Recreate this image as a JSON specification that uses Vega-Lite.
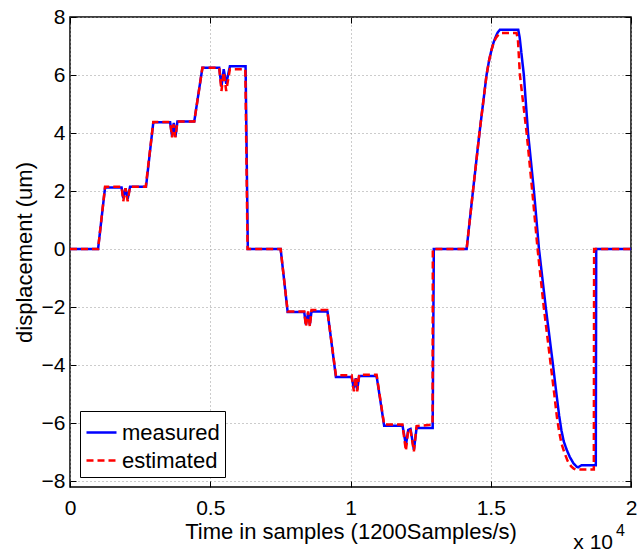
{
  "$schema": "https://vega.github.io/schema/vega-lite/v6.json",
  "width": 561,
  "height": 470,
  "autosize": "none",
  "padding": {"left": 70, "top": 17, "right": 6, "bottom": 65},
  "background": "white",
  "config": {
    "font": "Liberation Sans",
    "view": {"stroke": "#000000", "strokeWidth": 1.5},
    "axis": {
      "labelFont": "Liberation Sans",
      "titleFont": "Liberation Sans",
      "labelColor": "#000000",
      "titleColor": "#000000",
      "titleFontWeight": "normal",
      "labelFontSize": 21,
      "titleFontSize": 22,
      "domain": false,
      "tickColor": "#000000",
      "tickSize": -6,
      "tickWidth": 1,
      "gridColor": "#999999",
      "gridDash": [1, 3],
      "gridWidth": 1
    },
    "legend": {
      "orient": "bottom-left",
      "offset": 10,
      "strokeColor": "#000000",
      "fillColor": "#ffffff",
      "padding": 5,
      "symbolType": "stroke",
      "symbolSize": 900,
      "symbolStrokeWidth": 2.5,
      "labelFont": "Liberation Sans",
      "labelFontSize": 22,
      "labelColor": "#000000",
      "labelOffset": 4,
      "rowPadding": 0,
      "title": null
    }
  },
  "datasets": {
    "lines": [
      {"t": 0, "v": 0, "s": "measured"}, {"t": 1000, "v": 0, "s": "measured"}, {"t": 1250, "v": 2.12, "s": "measured"}, {"t": 1840, "v": 2.12, "s": "measured"}, {"t": 1900, "v": 1.75, "s": "measured"}, {"t": 1980, "v": 2.1, "s": "measured"}, {"t": 2055, "v": 1.72, "s": "measured"}, {"t": 2140, "v": 2.15, "s": "measured"}, {"t": 2710, "v": 2.15, "s": "measured"}, {"t": 2970, "v": 4.37, "s": "measured"}, {"t": 3570, "v": 4.37, "s": "measured"}, {"t": 3640, "v": 3.88, "s": "measured"}, {"t": 3700, "v": 4.35, "s": "measured"}, {"t": 3760, "v": 3.88, "s": "measured"}, {"t": 3830, "v": 4.4, "s": "measured"}, {"t": 4430, "v": 4.4, "s": "measured"}, {"t": 4720, "v": 6.25, "s": "measured"}, {"t": 5320, "v": 6.25, "s": "measured"}, {"t": 5400, "v": 5.6, "s": "measured"}, {"t": 5480, "v": 6.2, "s": "measured"}, {"t": 5570, "v": 5.7, "s": "measured"}, {"t": 5700, "v": 6.3, "s": "measured"}, {"t": 6260, "v": 6.3, "s": "measured"}, {"t": 6340, "v": 0, "s": "measured"}, {"t": 7510, "v": 0, "s": "measured"}, {"t": 7760, "v": -2.17, "s": "measured"}, {"t": 8350, "v": -2.17, "s": "measured"}, {"t": 8410, "v": -2.6, "s": "measured"}, {"t": 8490, "v": -2.2, "s": "measured"}, {"t": 8550, "v": -2.6, "s": "measured"}, {"t": 8610, "v": -2.15, "s": "measured"}, {"t": 9180, "v": -2.15, "s": "measured"}, {"t": 9480, "v": -4.41, "s": "measured"}, {"t": 10040, "v": -4.41, "s": "measured"}, {"t": 10120, "v": -4.8, "s": "measured"}, {"t": 10190, "v": -4.45, "s": "measured"}, {"t": 10240, "v": -4.85, "s": "measured"}, {"t": 10310, "v": -4.37, "s": "measured"}, {"t": 10930, "v": -4.37, "s": "measured"}, {"t": 11200, "v": -6.09, "s": "measured"}, {"t": 11856, "v": -6.09, "s": "measured"}, {"t": 11975, "v": -6.75, "s": "measured"}, {"t": 12060, "v": -6.23, "s": "measured"}, {"t": 12140, "v": -6.2, "s": "measured"}, {"t": 12260, "v": -6.92, "s": "measured"}, {"t": 12355, "v": -6.17, "s": "measured"}, {"t": 12930, "v": -6.17, "s": "measured"}, {"t": 12970, "v": 0, "s": "measured"}, {"t": 14140, "v": 0, "s": "measured"}, {"t": 14366, "v": 2, "s": "measured"}, {"t": 14597, "v": 4, "s": "measured"}, {"t": 14850, "v": 6, "s": "measured"}, {"t": 14940, "v": 6.5, "s": "measured"}, {"t": 15028, "v": 6.87, "s": "measured"}, {"t": 15100, "v": 7.12, "s": "measured"}, {"t": 15182, "v": 7.33, "s": "measured"}, {"t": 15250, "v": 7.47, "s": "measured"}, {"t": 15325, "v": 7.56, "s": "measured"}, {"t": 15980, "v": 7.56, "s": "measured"}, {"t": 16030, "v": 7.3, "s": "measured"}, {"t": 16180, "v": 6, "s": "measured"}, {"t": 16330, "v": 4, "s": "measured"}, {"t": 16540, "v": 2, "s": "measured"}, {"t": 16720, "v": 0, "s": "measured"}, {"t": 16960, "v": -2, "s": "measured"}, {"t": 17220, "v": -4, "s": "measured"}, {"t": 17343, "v": -5.0, "s": "measured"}, {"t": 17440, "v": -5.75, "s": "measured"}, {"t": 17520, "v": -6.25, "s": "measured"}, {"t": 17600, "v": -6.62, "s": "measured"}, {"t": 17700, "v": -6.9, "s": "measured"}, {"t": 17820, "v": -7.17, "s": "measured"}, {"t": 17940, "v": -7.37, "s": "measured"}, {"t": 18060, "v": -7.5, "s": "measured"}, {"t": 18115, "v": -7.52, "s": "measured"}, {"t": 18235, "v": -7.45, "s": "measured"}, {"t": 18745, "v": -7.45, "s": "measured"}, {"t": 18760, "v": 0, "s": "measured"}, {"t": 20000, "v": 0, "s": "measured"},
      {"t": 0, "v": 0, "s": "estimated"}, {"t": 1000, "v": 0, "s": "estimated"}, {"t": 1250, "v": 2.15, "s": "estimated"}, {"t": 1840, "v": 2.15, "s": "estimated"}, {"t": 1900, "v": 1.65, "s": "estimated"}, {"t": 1980, "v": 2.1, "s": "estimated"}, {"t": 2055, "v": 1.65, "s": "estimated"}, {"t": 2140, "v": 2.15, "s": "estimated"}, {"t": 2700, "v": 2.15, "s": "estimated"}, {"t": 2970, "v": 4.38, "s": "estimated"}, {"t": 3570, "v": 4.38, "s": "estimated"}, {"t": 3640, "v": 3.85, "s": "estimated"}, {"t": 3690, "v": 4.3, "s": "estimated"}, {"t": 3760, "v": 3.85, "s": "estimated"}, {"t": 3830, "v": 4.4, "s": "estimated"}, {"t": 4430, "v": 4.4, "s": "estimated"}, {"t": 4720, "v": 6.25, "s": "estimated"}, {"t": 5320, "v": 6.25, "s": "estimated"}, {"t": 5400, "v": 5.45, "s": "estimated"}, {"t": 5480, "v": 6.1, "s": "estimated"}, {"t": 5570, "v": 5.45, "s": "estimated"}, {"t": 5700, "v": 6.2, "s": "estimated"}, {"t": 6250, "v": 6.2, "s": "estimated"}, {"t": 6330, "v": 0, "s": "estimated"}, {"t": 7510, "v": 0, "s": "estimated"}, {"t": 7760, "v": -2.15, "s": "estimated"}, {"t": 8350, "v": -2.15, "s": "estimated"}, {"t": 8410, "v": -2.67, "s": "estimated"}, {"t": 8490, "v": -2.15, "s": "estimated"}, {"t": 8550, "v": -2.67, "s": "estimated"}, {"t": 8610, "v": -2.1, "s": "estimated"}, {"t": 9170, "v": -2.1, "s": "estimated"}, {"t": 9480, "v": -4.35, "s": "estimated"}, {"t": 10040, "v": -4.35, "s": "estimated"}, {"t": 10120, "v": -4.9, "s": "estimated"}, {"t": 10190, "v": -4.4, "s": "estimated"}, {"t": 10240, "v": -4.9, "s": "estimated"}, {"t": 10310, "v": -4.33, "s": "estimated"}, {"t": 10930, "v": -4.33, "s": "estimated"}, {"t": 11200, "v": -6.05, "s": "estimated"}, {"t": 11850, "v": -6.05, "s": "estimated"}, {"t": 11975, "v": -6.95, "s": "estimated"}, {"t": 12060, "v": -6.2, "s": "estimated"}, {"t": 12140, "v": -6.25, "s": "estimated"}, {"t": 12260, "v": -6.97, "s": "estimated"}, {"t": 12355, "v": -6.1, "s": "estimated"}, {"t": 12925, "v": -6.05, "s": "estimated"}, {"t": 12935, "v": 0, "s": "estimated"}, {"t": 14140, "v": 0, "s": "estimated"}, {"t": 14366, "v": 2, "s": "estimated"}, {"t": 14597, "v": 4, "s": "estimated"}, {"t": 14850, "v": 6, "s": "estimated"}, {"t": 14940, "v": 6.5, "s": "estimated"}, {"t": 15028, "v": 6.87, "s": "estimated"}, {"t": 15100, "v": 7.1, "s": "estimated"}, {"t": 15182, "v": 7.28, "s": "estimated"}, {"t": 15280, "v": 7.4, "s": "estimated"}, {"t": 15385, "v": 7.45, "s": "estimated"}, {"t": 15920, "v": 7.45, "s": "estimated"}, {"t": 15970, "v": 7.2, "s": "estimated"}, {"t": 16040, "v": 6, "s": "estimated"}, {"t": 16280, "v": 4, "s": "estimated"}, {"t": 16480, "v": 2, "s": "estimated"}, {"t": 16670, "v": 0, "s": "estimated"}, {"t": 16890, "v": -2, "s": "estimated"}, {"t": 17140, "v": -4, "s": "estimated"}, {"t": 17265, "v": -5.0, "s": "estimated"}, {"t": 17360, "v": -5.8, "s": "estimated"}, {"t": 17440, "v": -6.3, "s": "estimated"}, {"t": 17520, "v": -6.7, "s": "estimated"}, {"t": 17620, "v": -7.0, "s": "estimated"}, {"t": 17740, "v": -7.3, "s": "estimated"}, {"t": 17860, "v": -7.48, "s": "estimated"}, {"t": 17960, "v": -7.57, "s": "estimated"}, {"t": 18030, "v": -7.6, "s": "estimated"}, {"t": 18675, "v": -7.6, "s": "estimated"}, {"t": 18685, "v": 0, "s": "estimated"}, {"t": 20000, "v": 0, "s": "estimated"}
    ],
    "notes": [
      {"t": 20000, "v": -8.2, "base": "x 10", "exp": "4"}
    ]
  },
  "resolve": {"axis": {"x": "independent", "y": "independent"}},
  "layer": [
    {
      "data": {"name": "lines"},
      "transform": [{"filter": "datum.s === 'measured'"}],
      "mark": {"type": "line", "strokeWidth": 2.5, "interpolate": "linear"},
      "encoding": {
        "x": {"field": "t", "type": "quantitative", "scale": {"domain": [0, 20000], "nice": false, "zero": false},
              "axis": {"orient": "bottom", "values": [0, 5000, 10000, 15000, 20000], "labelExpr": "datum.value / 10000", "labelPadding": 16, "title": "Time in samples (1200Samples/s)", "titlePadding": 3, "grid": true, "labelFlush": false}},
        "y": {"field": "v", "type": "quantitative", "scale": {"domain": [-8.2, 8], "nice": false, "zero": false},
              "axis": {"orient": "left", "values": [-8, -6, -4, -2, 0, 2, 4, 6, 8], "labelExpr": "replace(datum.label, '-', '\u2212')", "labelPadding": 11, "title": "displacement (um)", "titlePadding": 5, "grid": true}},
        "color": {"field": "s", "type": "nominal", "scale": {"domain": ["measured", "estimated"], "range": ["#0000ff", "#ff0000"]}},
        "strokeDash": {"field": "s", "type": "nominal", "scale": {"domain": ["measured", "estimated"], "range": [[1, 0], [7, 4]]}}
      }
    },
    {
      "data": {"name": "lines"},
      "transform": [{"filter": "datum.s === 'estimated'"}],
      "mark": {"type": "line", "strokeWidth": 2.5, "interpolate": "linear"},
      "encoding": {
        "x": {"field": "t", "type": "quantitative", "axis": null},
        "y": {"field": "v", "type": "quantitative", "axis": null},
        "color": {"field": "s", "type": "nominal", "scale": {"domain": ["measured", "estimated"], "range": ["#0000ff", "#ff0000"]}},
        "strokeDash": {"field": "s", "type": "nominal", "scale": {"domain": ["measured", "estimated"], "range": [[1, 0], [7, 4]]}}
      }
    },
    {
      "data": {"name": "notes"},
      "mark": {"type": "text", "align": "right", "baseline": "alphabetic", "dx": -18, "dy": 62, "fontSize": 21, "font": "Liberation Sans", "color": "#000000"},
      "encoding": {
        "x": {"field": "t", "type": "quantitative", "axis": {"orient": "top", "values": [0, 5000, 10000, 15000, 20000], "labels": false, "title": null, "grid": false}},
        "y": {"field": "v", "type": "quantitative", "axis": {"orient": "right", "values": [-8, -6, -4, -2, 0, 2, 4, 6, 8], "labels": false, "title": null, "grid": false}},
        "text": {"field": "base"}
      }
    },
    {
      "data": {"name": "notes"},
      "mark": {"type": "text", "align": "left", "baseline": "alphabetic", "dx": -15, "dy": 49, "fontSize": 16, "font": "Liberation Sans", "color": "#000000"},
      "encoding": {
        "x": {"field": "t", "type": "quantitative", "axis": null},
        "y": {"field": "v", "type": "quantitative", "axis": null},
        "text": {"field": "exp"}
      }
    }
  ]
}
